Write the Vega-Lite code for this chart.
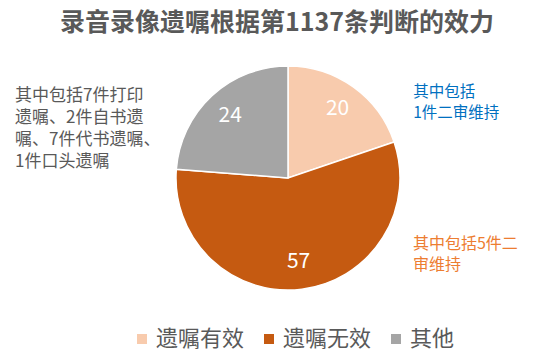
{
  "$schema": "https://vega.github.io/schema/vega-lite/v6.json",
  "autosize": {"type": "none"},
  "width": 516,
  "height": 272,
  "padding": {"left": 30, "top": 42, "right": 0, "bottom": 44},
  "background": "white",
  "config": {"view": {"stroke": null}, "font": "Noto Sans CJK SC"},
  "title": {
    "text": "录音录像遗嘱根据第1137条判断的效力",
    "fontSize": 25,
    "fontWeight": "bold",
    "color": "#595959",
    "font": "Noto Sans CJK SC",
    "dx": -11,
    "offset": -2
  },
  "data": {
    "values": [
      {"类别": "遗嘱有效", "件数": 20, "序号": 1, "说明": "其中包括\n1件二审维持"},
      {"类别": "遗嘱无效", "件数": 57, "序号": 2, "说明": "其中包括5件二\n审维持"},
      {"类别": "其他", "件数": 24, "序号": 3, "说明": "其中包括7件打印\n遗嘱、2件自书遗\n嘱、7件代书遗嘱、\n1件口头遗嘱"}
    ]
  },
  "encoding": {
    "theta": {"field": "件数", "type": "quantitative", "stack": true},
    "order": {"field": "序号", "type": "quantitative"}
  },
  "layer": [
    {
      "mark": {"type": "arc", "outerRadius": 112, "stroke": "white", "strokeWidth": 1.5},
      "encoding": {
        "color": {
          "field": "类别",
          "type": "nominal",
          "scale": {"domain": ["遗嘱有效", "遗嘱无效", "其他"], "range": ["#F8CBAD", "#C55A11", "#A5A5A5"]},
          "legend": {
            "orient": "none",
            "legendX": 101,
            "legendY": 286,
            "direction": "horizontal",
            "title": null,
            "symbolType": "square",
            "symbolSize": 100,
            "symbolStrokeWidth": 0,
            "labelFontSize": 22,
            "labelColor": "#595959",
            "labelOffset": 3,
            "columnPadding": 13,
            "labelFont": "Noto Sans CJK SC"
          }
        }
      }
    },
    {
      "mark": {"type": "text", "radius": 85, "fontSize": 21, "color": "white", "font": "Noto Sans CJK SC"},
      "encoding": {"text": {"field": "件数", "type": "quantitative"}}
    },
    {
      "mark": {"type": "text", "radius": 112, "align": "left", "baseline": "top", "dx": 60, "dy": -1.5, "fontSize": 15.5, "lineHeight": 21, "lineBreak": "\n", "color": "#0070C0", "font": "Noto Sans CJK SC"},
      "encoding": {"text": {"condition": {"test": "datum['类别'] === '遗嘱有效'", "field": "说明", "type": "nominal"}, "value": ""}}
    },
    {
      "mark": {"type": "text", "radius": 112, "align": "left", "baseline": "top", "dx": 111, "dy": -53, "fontSize": 16, "lineHeight": 21, "lineBreak": "\n", "color": "#ED7D31", "font": "Noto Sans CJK SC"},
      "encoding": {"text": {"condition": {"test": "datum['类别'] === '遗嘱无效'", "field": "说明", "type": "nominal"}, "value": ""}}
    },
    {
      "mark": {"type": "text", "radius": 112, "align": "left", "baseline": "top", "dx": -197, "dy": -7.5, "fontSize": 17, "lineHeight": 22, "lineBreak": "\n", "color": "#595959", "font": "Noto Sans CJK SC"},
      "encoding": {"text": {"condition": {"test": "datum['类别'] === '其他'", "field": "说明", "type": "nominal"}, "value": ""}}
    }
  ]
}
